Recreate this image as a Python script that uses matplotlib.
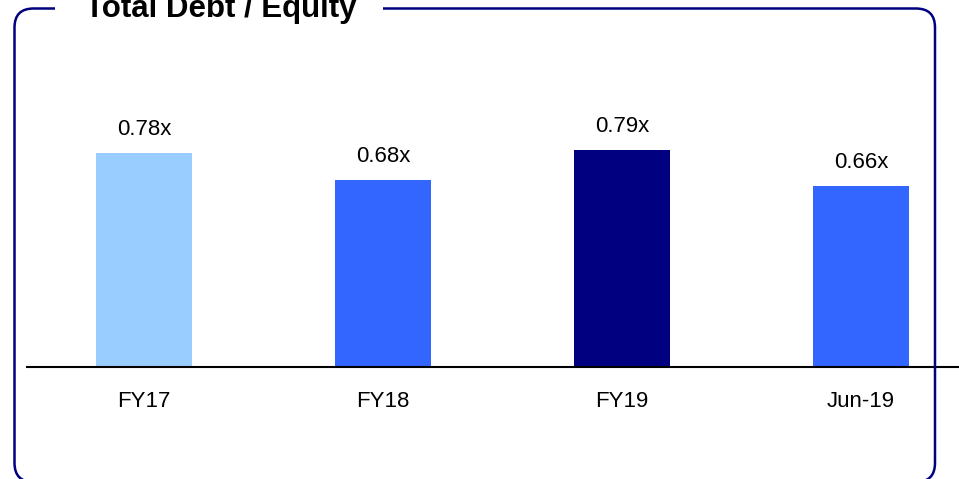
import matplotlib
matplotlib.use("Agg")
import matplotlib.pyplot as plt
from matplotlib.patches import FancyBboxPatch, Rectangle
from matplotlib.transforms import IdentityTransform

categories = ["FY17", "FY18", "FY19", "Jun-19"]
values = [0.78, 0.68, 0.79, 0.66]
labels = ["0.78x", "0.68x", "0.79x", "0.66x"]
colors = ["#99CCFF", "#3366FF", "#000080", "#3366FF"]

plt.rcParams['font.family'] = ['Liberation Sans', 'DejaVu Sans']

fig = plt.figure(figsize=(9.59, 4.79), dpi=100)
W, H = 959, 479

# rounded frame around the chart (pixel coords)
px = IdentityTransform()
frame = FancyBboxPatch((14.5, -3), 935 - 14.5, (H - 8.5) + 3,
                       boxstyle="round,pad=0,rounding_size=19",
                       transform=px, fill=False, edgecolor="#000080",
                       linewidth=1.8, zorder=1)
fig.patches.append(frame)
fig.patches.append(Rectangle((55, H - 16), 383 - 55, 14, transform=px,
                             facecolor="white", edgecolor="none", zorder=2))
fig.text(85, H - 17, "Total Debt / Equity", transform=px, fontsize=22.5,
         fontweight="bold", va="baseline", ha="left", zorder=3)

ax = fig.add_axes([27 / W, 1 - 367 / H, 1 - 27 / W, (367 - 60) / H])
x = range(len(categories))
bars = ax.bar(x, values, width=0.4, color=colors)
ax.bar_label(bars, labels=labels, padding=9, fontsize=16)

ax.set_xlim(-0.4895, 3.41)
ax.set_ylim(0, 307 / 275)
ax.set_xticks(list(x))
ax.set_xticklabels(categories, fontsize=16)
ax.tick_params(axis="x", length=0, pad=17)
ax.set_yticks([])
for s in ["top", "right", "left"]:
    ax.spines[s].set_visible(False)
ax.spines["bottom"].set_linewidth(1.5)
ax.patch.set_alpha(0)

fig.savefig("out.png", dpi=100)
